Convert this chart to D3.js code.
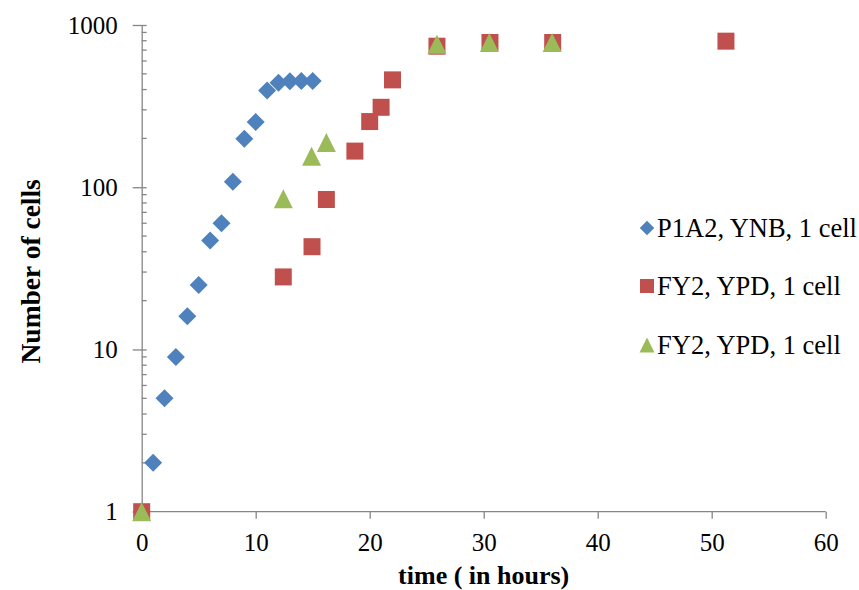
<!DOCTYPE html>
<html>
<head>
<meta charset="utf-8">
<script src="https://cdn.jsdelivr.net/npm/d3@7"></script>
<style>
  html, body { margin: 0; padding: 0; background: #fff; }
  svg { display: block; }
  text { font-family: "Liberation Serif", "Times New Roman", serif; fill: #000; }
</style>
</head>
<body>
<svg id="chart" width="859" height="590"></svg>
<script>
// ---- data ----
const seriesNames = ["P1A2, YNB, 1 cell", "FY2, YPD, 1 cell", "FY2, YPD, 1 cell"];

const p1a2Time  = [0, 1, 2, 3, 4, 5, 6, 7, 8, 9, 10, 11, 12, 13, 14, 15];
const p1a2Cells = [1, 2, 5, 9, 16, 25, 47, 60, 108, 199, 252, 395, 440, 450, 452, 452];

const fy2aTime  = [0, 12.42, 14.94, 16.2, 18.7, 20.0, 21.0, 22.0, 25.9, 30.55, 36.05, 51.25];
const fy2aCells = [1, 28, 43, 84, 167, 254, 311, 459, 740, 780, 780, 795];

const fy2bTime  = [0, 12.42, 14.9, 16.2, 25.9, 30.5, 36.0];
const fy2bCells = [1, 85, 155, 189, 760, 780, 780];

const xTicks = [0, 10, 20, 30, 40, 50, 60];
const yTicks = [1, 10, 100, 1000];

const colors = ["#4F81BD", "#C0504D", "#9BBB59"];

// ---- layout ----
const FONT = '"Liberation Serif", "Times New Roman", serif';
const svg = d3.select("#chart");
const x = d3.scaleLinear().domain([0, 60]).range([141.7, 825.7]);
const y = d3.scaleLog().domain([1, 1000]).range([511.7, 25]);
const axisColor = "#868686";

// custom marker shapes
const diamond = { draw(ctx, size) { const r = Math.sqrt(size) / 2;
  ctx.moveTo(0, -r); ctx.lineTo(r, 0); ctx.lineTo(0, r); ctx.lineTo(-r, 0); ctx.closePath(); } };
const square = { draw(ctx, size) { const r = Math.sqrt(size) / 2;
  ctx.rect(-r, -r, 2 * r, 2 * r); } };
const triangle = { draw(ctx, size) { const r = Math.sqrt(size) / 2;
  ctx.moveTo(0, -r); ctx.lineTo(r, r); ctx.lineTo(-r, r); ctx.closePath(); } };
const shapes = [diamond, square, triangle];
const markerSizes = [18 * 18, 17 * 17, 19 * 19];
const legendSizes = [14.5 * 14.5, 14 * 14, 15 * 15];

// ---- axes ----
const yMinor = [];
for (let d = 1; d < 1000; d *= 10) for (let k = 2; k <= 9; k++) yMinor.push(d * k);

const gx = svg.append("g").attr("transform", `translate(0,${y(1)})`)
  .call(d3.axisBottom(x).tickValues(xTicks).tickFormat(d3.format("d")).tickSize(7).tickPadding(15))
  .attr("font-family", FONT);
gx.select(".domain").attr("stroke", axisColor).attr("stroke-width", 1.3).attr("d", `M${x(0)},0H${x(60)}`);
gx.selectAll(".tick line").attr("stroke", axisColor).attr("stroke-width", 1.3);
gx.selectAll(".tick text").attr("font-size", 25).style("font-family", FONT);

const gy = svg.append("g").attr("transform", `translate(${x(0)},0)`);
gy.call(d3.axisLeft(y).tickValues(yTicks).tickFormat(d3.format("d")).tickSizeInner(9).tickSizeOuter(0).tickPadding(15))
  .attr("font-family", FONT);
gy.select(".domain").attr("stroke", axisColor).attr("stroke-width", 1.3);
gy.selectAll(".tick line").attr("stroke", axisColor).attr("stroke-width", 1.3).attr("x2", -9).attr("x1", 5);
gy.selectAll(".tick text").attr("font-size", 25).attr("dy", "0.33em").style("font-family", FONT);
gy.append("g").selectAll("line").data(yMinor).join("line")
  .attr("x1", 0).attr("x2", 5).attr("y1", d => y(d)).attr("y2", d => y(d))
  .attr("stroke", axisColor).attr("stroke-width", 1.3);

// ---- axis titles ----
svg.append("text").attr("x", (x(0) + x(60)) / 2).attr("y", 584)
  .attr("text-anchor", "middle").attr("font-size", 26).attr("font-weight", "bold")
  .text("time ( in hours)");
svg.append("text").attr("transform", `translate(40,${(y(1) + y(1000)) / 2 + 3}) rotate(-90)`)
  .attr("text-anchor", "middle").attr("font-size", 27.5).attr("font-weight", "bold")
  .text("Number of cells");

// ---- points ----
const series = [
  p1a2Time.map((t, i) => ({ t, v: p1a2Cells[i] })),
  fy2aTime.map((t, i) => ({ t, v: fy2aCells[i] })),
  fy2bTime.map((t, i) => ({ t, v: fy2bCells[i] })),
];
series.forEach((pts, s) => {
  svg.append("g").selectAll("path").data(pts).join("path")
    .attr("transform", d => `translate(${x(d.t)},${y(d.v)})`)
    .attr("d", d3.symbol().type(shapes[s]).size(markerSizes[s])())
    .attr("fill", colors[s]);
});

// ---- legend ----
const legendY = [228, 286, 345];
const lg = svg.append("g");
seriesNames.forEach((name, s) => {
  lg.append("path").attr("transform", `translate(647,${legendY[s]})`)
    .attr("d", d3.symbol().type(shapes[s]).size(legendSizes[s])())
    .attr("fill", colors[s]);
  lg.append("text").attr("x", 657).attr("y", legendY[s]).attr("dy", "0.35em")
    .attr("font-size", 26.5).text(name);
});
</script>
</body>
</html>
